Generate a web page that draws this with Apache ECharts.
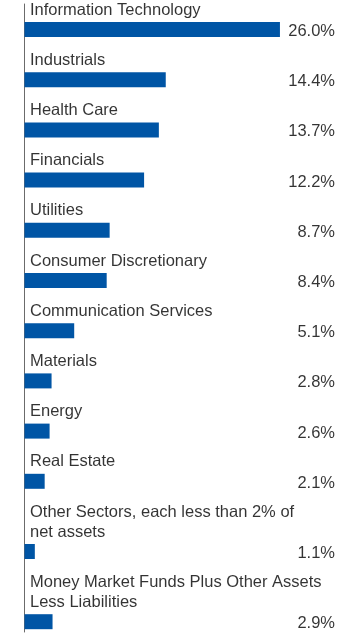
<!DOCTYPE html>
<html>
<head>
<meta charset="utf-8">
<script src="https://cdn.jsdelivr.net/npm/echarts@6/dist/echarts.min.js"></script>
<style>
html,body{margin:0;padding:0;background:#fff;}
#chart{width:360px;height:637px;}
</style>
</head>
<body>
<div id="chart"></div>
<script>
// ---- data ----
const categories = [
  "Information Technology",
  "Industrials",
  "Health Care",
  "Financials",
  "Utilities",
  "Consumer Discretionary",
  "Communication Services",
  "Materials",
  "Energy",
  "Real Estate",
  "Other Sectors, each less than 2% of\nnet assets",
  "Money Market Funds Plus Other Assets\nLess Liabilities"
];
const values = [26.0, 14.4, 13.7, 12.2, 8.7, 8.4, 5.1, 2.8, 2.6, 2.1, 1.1, 2.9];
const xMax = 32;

// ---- layout (row slots depend on number of label lines) ----
const FIRST = 25.5, ROW = 50.2, LINE = 20, BAR_H = 15;
const slots = [];
categories.forEach((c, i) => {
  const lines = c.split("\n").length;
  const prev = i === 0 ? FIRST - ROW : slots[i - 1];
  slots.push(prev + ROW + LINE * (lines - 1));
});

const font = "'Liberation Sans', Arial, sans-serif";
const FS = 16.5;

const chart = echarts.init(document.getElementById('chart'), null, {renderer: 'canvas'});
chart.setOption({
  animation: false,
  grid: {left: 24, right: 21, top: 4, bottom: 5},
  xAxis: {
    type: 'value', min: 0, max: xMax,
    show: false
  },
  yAxis: {
    type: 'value', min: 0, max: 628, inverse: true,
    axisLine: {show: true, lineStyle: {color: '#6b6b6b', width: 1}},
    axisTick: {show: false}, axisLabel: {show: false}, splitLine: {show: false}
  },
  series: [
    {
      type: 'custom',
      data: values.map((v, i) => [v, slots[i]]),
      encode: {x: 0, y: 1},
      renderItem: (params, api) => {
        const p0 = api.coord([0, api.value(1)]);
        const p1 = api.coord([api.value(0), api.value(1)]);
        return {
          type: 'rect',
          shape: {x: p0[0] + 0.5, y: p0[1] - BAR_H / 2, width: p1[0] - p0[0] - 0.5, height: BAR_H},
          style: {fill: '#0055a5'}
        };
      }
    },
    {
      type: 'scatter', symbolSize: 0, silent: true,
      data: categories.map((c, i) => [0, slots[i]]),
      label: {
        show: true, position: 'top', distance: 9.5, align: 'left', offset: [6, 0],
        formatter: p => categories[p.dataIndex],
        fontFamily: font, fontSize: FS, lineHeight: LINE, color: '#000'
      }
    },
    {
      type: 'scatter', symbolSize: 0, silent: true,
      data: values.map((v, i) => [xMax, slots[i]]),
      label: {
        show: true, position: 'left', distance: 4, offset: [0, 2],
        formatter: p => values[p.dataIndex].toFixed(1) + '%',
        fontFamily: font, fontSize: FS, color: '#000'
      }
    }
  ]
});
</script>
</body>
</html>
